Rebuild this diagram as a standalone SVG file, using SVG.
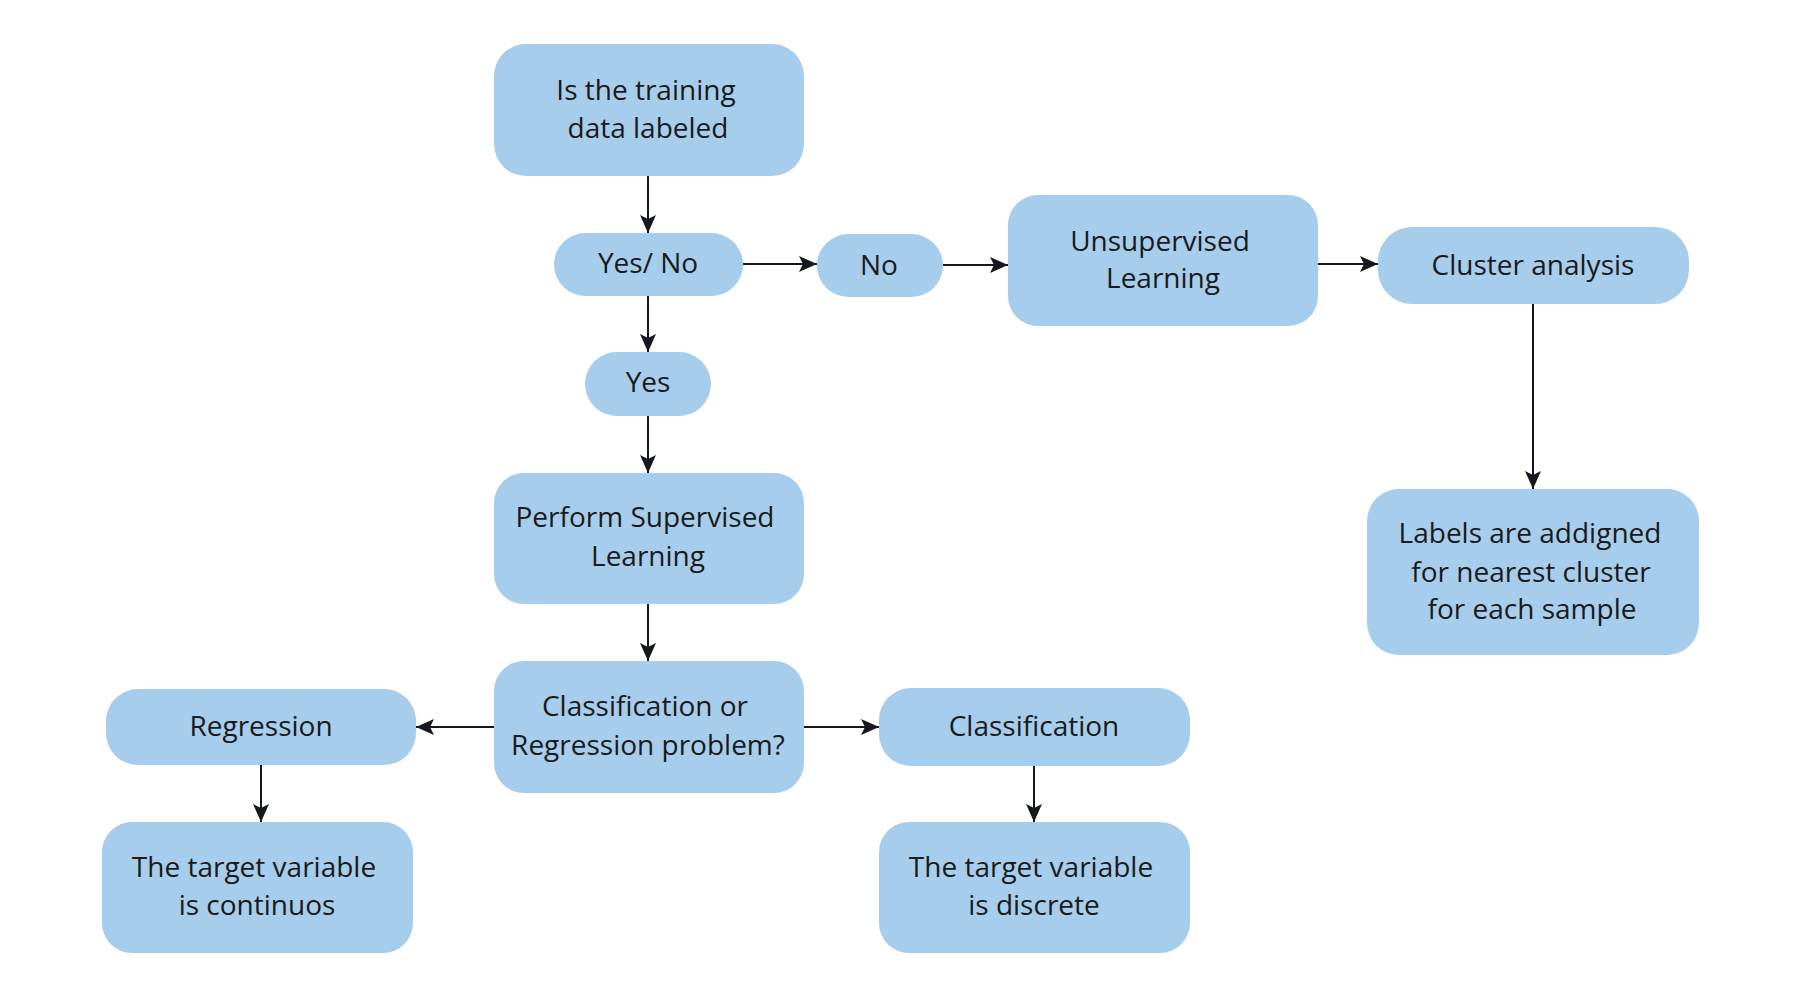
<svg xmlns="http://www.w3.org/2000/svg" width="1800" height="995" viewBox="0 0 1800 995">
  <style>
    .box { fill: #a7cdec; }
    .t { font-family: "Open Sans", "Noto Sans", sans-serif; font-size: 28px; fill: #1a1a1a; text-anchor: middle; }
    .c { stroke: #15181f; stroke-width: 2; fill: none; marker-end: url(#arr); }
  </style>
  <defs>
    <marker id="arr" viewBox="0 0 18 16" refX="18" refY="8" markerWidth="18" markerHeight="16" markerUnits="userSpaceOnUse" orient="auto">
      <path d="M0,0 L18,8 L0,16 L4,8 Z" fill="#15181f"/>
    </marker>
  </defs>
  <rect width="1800" height="995" fill="#ffffff"/>

  <g id="connectors">
    <line class="c" x1="648" y1="176" x2="648" y2="233"/>
    <line class="c" x1="743" y1="264" x2="817" y2="264"/>
    <line class="c" x1="943" y1="265" x2="1008" y2="265"/>
    <line class="c" x1="1318" y1="264" x2="1378" y2="264"/>
    <line class="c" x1="1533" y1="304" x2="1533" y2="489"/>
    <line class="c" x1="648" y1="296" x2="648" y2="352"/>
    <line class="c" x1="648" y1="416" x2="648" y2="473"/>
    <line class="c" x1="648" y1="604" x2="648" y2="661"/>
    <line class="c" x1="494" y1="727" x2="416" y2="727"/>
    <line class="c" x1="804" y1="727" x2="879" y2="727"/>
    <line class="c" x1="261" y1="765" x2="261" y2="822"/>
    <line class="c" x1="1034" y1="766" x2="1034" y2="822"/>
  </g>

  <g id="node-labeled">
    <rect class="box" x="494" y="44" width="310" height="132" rx="32"/>
    <text class="t" x="646" y="100">Is the training</text>
    <text class="t" x="648" y="138">data labeled</text>
  </g>
  <g id="node-yesno">
    <rect class="box" x="554" y="233" width="189" height="63" rx="31.5"/>
    <text class="t" x="648" y="273">Yes/ No</text>
  </g>
  <g id="node-no">
    <rect class="box" x="817" y="234" width="126" height="63" rx="31.5"/>
    <text class="t" x="879" y="275">No</text>
  </g>
  <g id="node-unsupervised">
    <rect class="box" x="1008" y="195" width="310" height="131" rx="30"/>
    <text class="t" x="1160" y="251">Unsupervised</text>
    <text class="t" x="1163" y="288">Learning</text>
  </g>
  <g id="node-cluster">
    <rect class="box" x="1378" y="227" width="311" height="77" rx="34"/>
    <text class="t" x="1533" y="275">Cluster analysis</text>
  </g>
  <g id="node-labels">
    <rect class="box" x="1367" y="489" width="332" height="166" rx="32"/>
    <text class="t" x="1530" y="543">Labels are addigned</text>
    <text class="t" x="1531" y="582">for nearest cluster</text>
    <text class="t" x="1532" y="619">for each sample</text>
  </g>
  <g id="node-yes">
    <rect class="box" x="585" y="352" width="126" height="64" rx="32"/>
    <text class="t" x="648" y="392">Yes</text>
  </g>
  <g id="node-supervised">
    <rect class="box" x="494" y="473" width="310" height="131" rx="30"/>
    <text class="t" x="645" y="527">Perform Supervised</text>
    <text class="t" x="648" y="566">Learning</text>
  </g>
  <g id="node-problem">
    <rect class="box" x="494" y="661" width="310" height="132" rx="30"/>
    <text class="t" x="645" y="716">Classification or</text>
    <text class="t" x="648" y="755">Regression problem?</text>
  </g>
  <g id="node-regression">
    <rect class="box" x="106" y="689" width="310" height="76" rx="32"/>
    <text class="t" x="261" y="736">Regression</text>
  </g>
  <g id="node-classification">
    <rect class="box" x="879" y="688" width="311" height="78" rx="32"/>
    <text class="t" x="1034" y="736">Classification</text>
  </g>
  <g id="node-continuous">
    <rect class="box" x="102" y="822" width="311" height="131" rx="30"/>
    <text class="t" x="254" y="877">The target variable</text>
    <text class="t" x="257" y="915">is continuos</text>
  </g>
  <g id="node-discrete">
    <rect class="box" x="879" y="822" width="311" height="131" rx="30"/>
    <text class="t" x="1031" y="877">The target variable</text>
    <text class="t" x="1034" y="915">is discrete</text>
  </g>
</svg>
